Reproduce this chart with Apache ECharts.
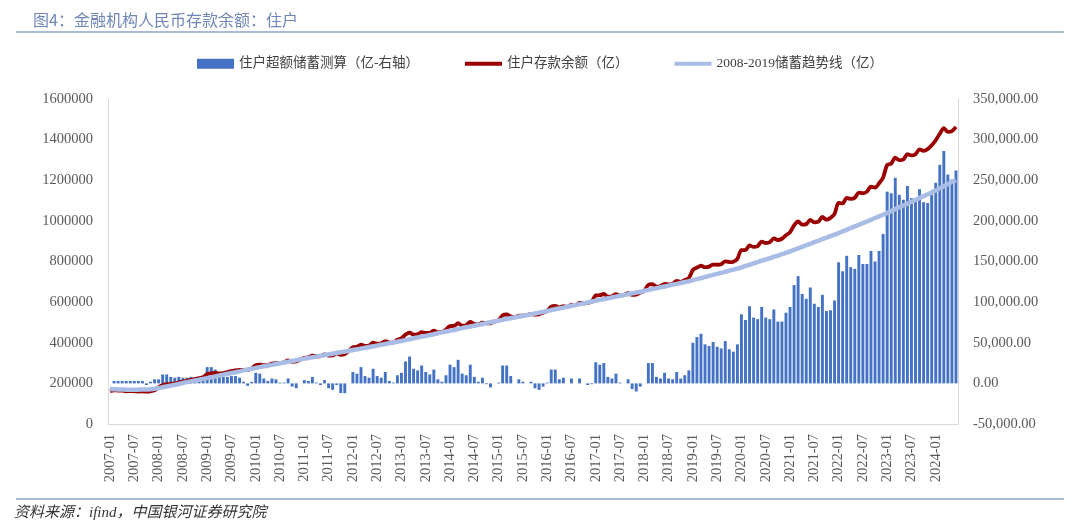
<!DOCTYPE html>
<html><head><meta charset="utf-8">
<script src="https://cdn.jsdelivr.net/npm/echarts@6/dist/echarts.min.js"></script>
<style>html,body{margin:0;padding:0;background:#fff}#c{width:1080px;height:532px}</style>
</head><body><div id="c"></div>
<script>
// Monthly categories 2007-01 .. 2024-06
const categories = [];
for (let y = 2007; y <= 2024; y++) {
  for (let m = 1; m <= 12; m++) {
    if (y === 2024 && m > 6) break;
    categories.push(y + '-' + (m < 10 ? '0' + m : '' + m));
  }
}

// 住户超额储蓄测算（亿，右轴）
const excess = [
  0, 3000, 3000, 3000, 3000, 3000, 3000, 3000, 3000, -2000, 2000, 5000,
  5000, 11000, 11000, 8000, 7000, 8000, 7000, 7000, 8000, 7000, 8000, 9000,
  20000, 20000, 17000, 10000, 8000, 8000, 9000, 9000, 7000, 2000, -3000, 2000,
  13000, 12000, 6000, 3000, 6000, 5000, 1000, 1000, 6000, -4000, -6000, 0,
  4000, 3000, 8000, 1000, -2000, 4000, -6000, -8000, -2000, -12000, -12000, 0,
  14000, 12000, 20000, 9000, 7000, 18000, 9000, 7000, 14000, 3000, 1000, 10000,
  13000, 27000, 33000, 18000, 16000, 22000, 14000, 11000, 17000, 5000, 2000, 10000,
  23000, 20000, 29000, 12000, 10000, 23000, 8000, 2000, 7000, -1000, -5000, 0,
  1000, 22000, 22000, 9000, 0, 5000, 2000, 0, 2000, -6000, -8000, -4000,
  1000, 17000, 17000, 5000, 7000, 0, 6000, 0, 6000, 0, -2000, -1000,
  26000, 23000, 25000, 8000, 6000, 12000, 1000, 0, 5000, -7000, -10000, -4000,
  0, 25000, 25000, 8000, 6000, 13000, 6000, 5000, 14000, 6000, 10000, 16000,
  50000, 57000, 61000, 48000, 46000, 51000, 45000, 43000, 52000, 42000, 39000, 48000,
  85000, 78000, 95000, 81000, 79000, 94000, 81000, 79000, 91000, 76000, 76000, 87000,
  94000, 121000, 132000, 110000, 104000, 118000, 98000, 94000, 109000, 89000, 90000, 102000,
  149000, 138000, 157000, 143000, 141000, 158000, 147000, 147000, 163000, 150000, 163000, 184000,
  236000, 234000, 253000, 232000, 226000, 243000, 228000, 225000, 239000, 223000, 222000, 232000,
  247000, 269000, 286000, 257000, 251000, 262000
];

// 住户存款余额（亿）
const deposits = [
  162000, 166000, 165000, 164000, 161000, 162000, 161000, 160000, 161000, 159000, 161000, 166000,
  182000, 192000, 196000, 197000, 200000, 205000, 209000, 213000, 218000, 221000, 226000, 231000,
  246000, 250000, 251000, 249000, 251000, 255000, 260000, 264000, 266000, 266000, 265000, 274000,
  289000, 292000, 290000, 290000, 297000, 300000, 300000, 304000, 313000, 306000, 308000, 318000,
  326000, 328000, 337000, 333000, 334000, 343000, 337000, 338000, 348000, 341000, 345000, 360000,
  378000, 380000, 391000, 384000, 386000, 401000, 395000, 397000, 408000, 401000, 402000, 415000,
  422000, 440000, 450000, 440000, 442000, 452000, 448000, 449000, 459000, 452000, 453000, 465000,
  482000, 483000, 496000, 484000, 486000, 503000, 492000, 490000, 499000, 496000, 496000, 505000,
  510000, 535000, 539000, 530000, 525000, 534000, 534000, 536000, 542000, 538000, 540000, 548000,
  557000, 578000, 582000, 574000, 580000, 577000, 588000, 586000, 596000, 594000, 597000, 602000,
  633000, 634000, 640000, 627000, 629000, 639000, 632000, 635000, 644000, 636000, 637000, 647000,
  655000, 685000, 689000, 676000, 679000, 690000, 687000, 691000, 704000, 700000, 709000, 719000,
  758000, 770000, 779000, 772000, 775000, 785000, 784000, 787000, 801000, 797000, 799000, 813000,
  856000, 856000, 879000, 872000, 876000, 898000, 891000, 895000, 914000, 905000, 912000, 929000,
  944000, 978000, 997000, 982000, 984000, 1005000, 993000, 996000, 1019000, 1006000, 1015000, 1034000,
  1089000, 1086000, 1113000, 1108000, 1114000, 1139000, 1136000, 1144000, 1168000, 1164000, 1185000, 1214000,
  1275000, 1282000, 1311000, 1299000, 1302000, 1328000, 1322000, 1328000, 1352000, 1345000, 1353000, 1372000,
  1397000, 1429000, 1457000, 1438000, 1442000, 1463000
];

// 2008-2019储蓄趋势线（亿）
const trend = [
  172000, 171000, 170000, 170000, 169000, 169000, 169000, 169000, 170000, 170000, 171000, 173000,
  177000, 181000, 185000, 189000, 193000, 197000, 202000, 206000, 210000, 214000, 218000, 222000,
  226000, 230000, 234000, 239000, 243000, 247000, 251000, 255000, 259000, 264000, 268000, 272000,
  276000, 280000, 284000, 287000, 291000, 295000, 299000, 303000, 307000, 310000, 314000, 318000,
  322000, 325000, 329000, 332000, 336000, 339000, 343000, 346000, 350000, 353000, 357000, 360000,
  364000, 368000, 371000, 375000, 379000, 383000, 386000, 390000, 394000, 398000, 401000, 405000,
  409000, 413000, 417000, 422000, 426000, 430000, 434000, 438000, 442000, 447000, 451000, 455000,
  459000, 463000, 467000, 472000, 476000, 480000, 484000, 488000, 492000, 497000, 501000, 505000,
  509000, 513000, 517000, 521000, 525000, 529000, 532000, 536000, 540000, 544000, 548000, 552000,
  556000, 561000, 565000, 569000, 573000, 577000, 582000, 586000, 590000, 594000, 599000, 603000,
  607000, 611000, 615000, 619000, 623000, 627000, 631000, 635000, 639000, 643000, 647000, 651000,
  655000, 660000, 664000, 668000, 673000, 677000, 681000, 686000, 690000, 694000, 699000, 703000,
  708000, 713000, 718000, 724000, 729000, 734000, 739000, 744000, 749000, 755000, 760000, 765000,
  771000, 778000, 784000, 791000, 797000, 804000, 810000, 816000, 823000, 829000, 836000, 842000,
  850000, 857000, 865000, 872000, 880000, 887000, 895000, 902000, 910000, 917000, 925000, 932000,
  940000, 948000, 956000, 965000, 973000, 981000, 989000, 997000, 1005000, 1014000, 1022000, 1030000,
  1039000, 1048000, 1058000, 1067000, 1076000, 1085000, 1094000, 1103000, 1113000, 1122000, 1131000, 1140000,
  1150000, 1160000, 1171000, 1181000, 1191000, 1201000
];

const seriesNames = ['住户超额储蓄测算（亿-右轴）', '住户存款余额（亿）', '2008-2019储蓄趋势线（亿）'];
const leftAxisTicks = { min: 0, max: 1600000, interval: 200000 };
const rightAxisTicks = { min: -50000, max: 350000, interval: 50000 };

const serif = '"Liberation Serif", "Times New Roman", "Noto Sans CJK SC", serif';
const lineIcon = 'path://M0,0L38,0L38,4L0,4Z';
const chart = echarts.init(document.getElementById('c'));
chart.setOption({
  animation: false,
  backgroundColor: '#ffffff',
  title: {
    text: '图4：金融机构人民币存款余额：住户',
    left: 28, top: 7,
    textStyle: { fontSize: 16, fontWeight: 'normal', color: '#6f86b8', fontFamily: '"Noto Sans CJK SC", sans-serif' }
  },
  legend: {
    top: 52, left: 'center',
    itemWidth: 37, itemHeight: 10, itemGap: 46,
    textStyle: { fontSize: 13.5, color: '#404040', fontFamily: serif },
    data: [
      { name: seriesNames[0], icon: 'rect' },
      { name: seriesNames[1], icon: lineIcon },
      { name: seriesNames[2], icon: lineIcon }
    ]
  },
  grid: { left: 108, right: 122, top: 99, bottom: 108, containLabel: false },
  xAxis: {
    type: 'category', data: categories, boundaryGap: true,
    axisLine: { onZero: false, lineStyle: { color: '#d9d9d9', width: 1 } },
    axisTick: { show: false },
    axisLabel: { interval: 5, rotate: 90, fontSize: 14.5, color: '#595959', margin: 10, fontFamily: serif }
  },
  yAxis: [
    {
      type: 'value', min: leftAxisTicks.min, max: leftAxisTicks.max, interval: leftAxisTicks.interval,
      splitLine: { show: false }, axisTick: { show: false },
      axisLine: { show: true, lineStyle: { color: '#d9d9d9' } },
      axisLabel: { fontSize: 14.5, color: '#595959', margin: 15, fontFamily: serif, formatter: v => String(v) }
    },
    {
      type: 'value', position: 'right', min: rightAxisTicks.min, max: rightAxisTicks.max, interval: rightAxisTicks.interval,
      splitLine: { show: false }, axisTick: { show: false },
      axisLine: { show: true, lineStyle: { color: '#d9d9d9' } },
      axisLabel: {
        fontSize: 14.5, color: '#595959', margin: 15, fontFamily: serif,
        formatter: v => v.toLocaleString('en-US', { minimumFractionDigits: 2, maximumFractionDigits: 2 })
      }
    }
  ],
  series: [
    { name: seriesNames[0], type: 'bar', yAxisIndex: 1, data: excess, barWidth: '72%',
      itemStyle: { color: '#4472c4' }, z: 1 },
    { name: seriesNames[1], type: 'line', yAxisIndex: 0, data: deposits, symbol: 'none', smooth: 0.3,
      lineStyle: { color: '#9b0000', width: 3.8 }, itemStyle: { color: '#9b0000' }, z: 2 },
    { name: seriesNames[2], type: 'line', yAxisIndex: 0, data: trend, symbol: 'none', smooth: 0.3,
      lineStyle: { color: '#a8bce6', width: 4.5 }, itemStyle: { color: '#a8bce6' }, z: 3 }
  ],
  graphic: [
    { type: 'line', shape: { x1: 16, y1: 32, x2: 1064, y2: 32 }, style: { stroke: '#8ea2c8', lineWidth: 1.5 } },
    { type: 'line', shape: { x1: 16, y1: 499, x2: 1064, y2: 499 }, style: { stroke: '#8ea2c8', lineWidth: 1.5 } },
    { type: 'text', left: 14, top: 506,
      style: { text: '资料来源：ifind，中国银河证券研究院', font: 'italic 15px "Liberation Serif", "Noto Sans CJK SC", serif', fill: '#333333' } }
  ]
});
</script>
</body></html>
